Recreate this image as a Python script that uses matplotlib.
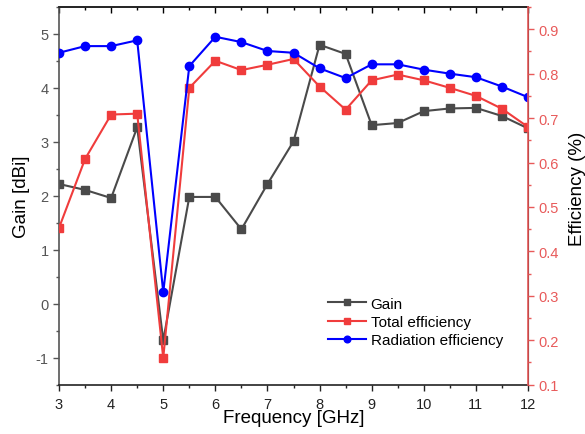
import matplotlib
matplotlib.use("Agg")
import matplotlib.pyplot as plt
from matplotlib.ticker import MultipleLocator

plt.rcParams['font.family'] = ['Liberation Sans', 'DejaVu Sans']
plt.rcParams['axes.unicode_minus'] = False

# data
freq = [3, 3.5, 4, 4.5, 5, 5.5, 6, 6.5, 7, 7.5, 8, 8.5, 9, 9.5, 10, 10.5, 11, 11.5, 12]
gain = [2.22, 2.11, 1.96, 3.27, -0.68, 1.98, 1.98, 1.38, 2.22, 3.01,
        4.80, 4.63, 3.31, 3.35, 3.57, 3.62, 3.63, 3.48, 3.25]
total_eff = [0.453, 0.608, 0.708, 0.710, 0.160, 0.768, 0.829, 0.808, 0.820, 0.833,
             0.771, 0.719, 0.785, 0.798, 0.785, 0.768, 0.750, 0.721, 0.680]
rad_eff = [0.847, 0.862, 0.862, 0.875, 0.308, 0.817, 0.883, 0.871, 0.851, 0.847,
           0.812, 0.790, 0.821, 0.821, 0.809, 0.800, 0.792, 0.771, 0.747]

gray = '#4a4a4a'
red = '#f03c3c'
blue = '#0000ff'
axred = '#e85a5a'

fig = plt.figure(figsize=(5.85, 4.35), dpi=100)
ax = fig.add_axes([0.1009, 0.1133, 0.8017, 0.8683])
ax2 = ax.twinx()

l1, = ax.plot(freq, gain, color=gray, marker='s', ms=5.5, lw=1.5, label='Gain')
l2, = ax2.plot(freq, total_eff, color=red, marker='s', ms=5.5, lw=1.5, label='Total efficiency')
l3, = ax2.plot(freq, rad_eff, color=blue, marker='o', ms=6, lw=1.5, label='Radiation efficiency')

ax.set_xlim(3, 12)
ax.set_ylim(-1.5, 5.5)
ax2.set_ylim(0.1, 0.95)

ax.xaxis.set_major_locator(MultipleLocator(1))
ax.xaxis.set_minor_locator(MultipleLocator(0.5))
ax.yaxis.set_major_locator(MultipleLocator(1))
ax.yaxis.set_minor_locator(MultipleLocator(0.5))
ax2.yaxis.set_major_locator(MultipleLocator(0.1))
ax2.yaxis.set_minor_locator(MultipleLocator(0.05))

ax.tick_params(axis='x', which='both', direction='out', labelsize=10.5,
               colors='#222222', pad=4)
ax.tick_params(axis='x', which='major', length=4.5, width=1)
ax.tick_params(axis='x', which='minor', length=2.5, width=1)
ax.tick_params(axis='y', which='major', length=4.5, width=1, labelsize=10.5,
               colors='#555555', pad=3)
ax.tick_params(axis='y', which='minor', length=2.5, width=1, colors='#555555')
ax2.tick_params(axis='y', which='major', length=4.5, width=1, labelsize=10.5,
                colors=axred, pad=3)
ax2.tick_params(axis='y', which='minor', length=2.5, width=1, colors=axred)

# top ticks point inward
sec = ax.secondary_xaxis('top')
sec.xaxis.set_major_locator(MultipleLocator(1))
sec.xaxis.set_minor_locator(MultipleLocator(0.5))
sec.tick_params(which='major', direction='in', length=4.5, width=1, labeltop=False)
sec.tick_params(which='minor', direction='in', length=2.5, width=1)
sec.spines['top'].set_color('#222222')
sec.spines['top'].set_linewidth(1.2)

for s in ['left', 'bottom', 'top']:
    ax.spines[s].set_color('#222222')
    ax.spines[s].set_linewidth(1.2)
ax.spines['left'].set_color('#555555')
ax2.spines['right'].set_color(axred)
ax2.spines['right'].set_linewidth(1.2)
ax2.spines['left'].set_visible(False)
ax2.spines['top'].set_visible(False)
ax2.spines['bottom'].set_visible(False)

ax.set_xlabel('Frequency [GHz]', fontsize=13.5, labelpad=-1)
ax.set_ylabel('Gain [dBi]', fontsize=13.5)
ax.yaxis.set_label_coords(-0.062, 0.5)
ax2.set_ylabel('Efficiency (%)', fontsize=13.5, rotation=90)
ax2.yaxis.set_label_coords(1.087, 0.52)

leg = ax.legend(handles=[l1, l2, l3], loc='upper left',
                bbox_to_anchor=(0.573, 0.233), frameon=False, fontsize=11,
                handlelength=2.5, handletextpad=0.3, labelspacing=0.28,
                borderpad=0, borderaxespad=0, markerscale=0.8)

fig.savefig('out.png', dpi=100)
